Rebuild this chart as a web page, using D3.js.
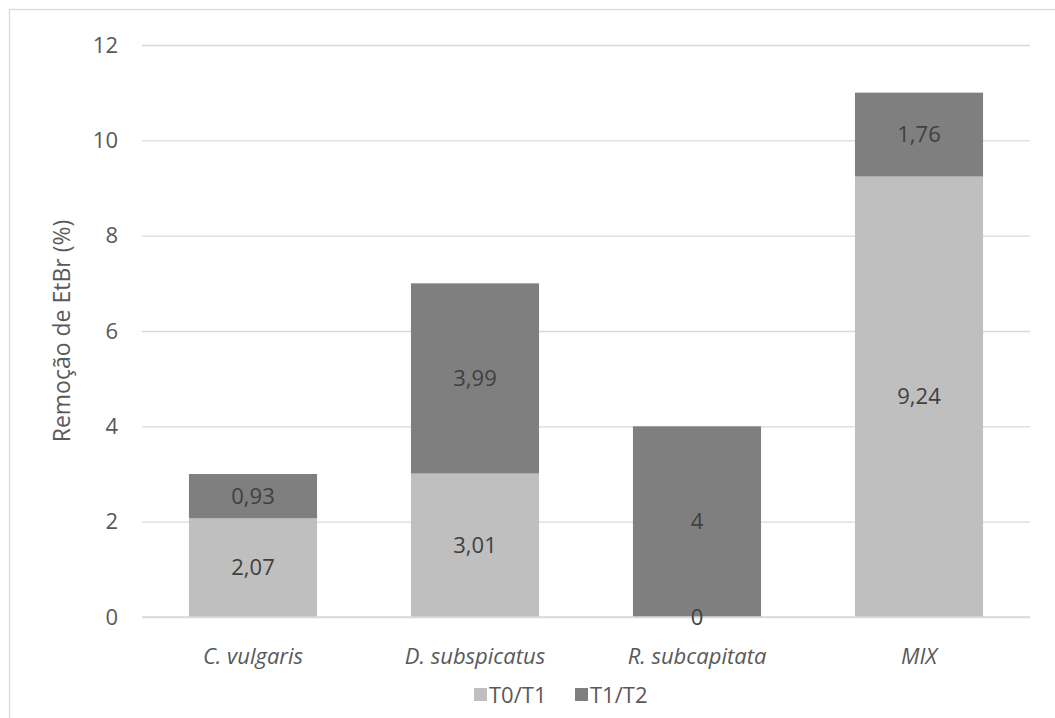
<!DOCTYPE html>
<html>
<head>
<meta charset="utf-8">
<script src="https://cdn.jsdelivr.net/npm/d3@7"></script>
<style>
  html, body { margin: 0; padding: 0; background: #fff; }
  svg { display: block; font-family: "Open Sans", sans-serif; }
</style>
</head>
<body>
<svg id="chart" width="1055" height="718"></svg>
<script>
const categories = ["C. vulgaris", "D. subspicatus", "R. subcapitata", "MIX"];
const seriesNames = ["T0/T1", "T1/T2"];
const t0t1 = [2.07, 3.01, 0, 9.24];
const t1t2 = [0.93, 3.99, 4, 1.76];
const labelsT0T1 = ["2,07", "3,01", "0", "9,24"];
const labelsT1T2 = ["0,93", "3,99", "4", "1,76"];
const yTicks = [0, 2, 4, 6, 8, 10, 12];
const colors = ["#bfbfbf", "#7f7f7f"];

const svg = d3.select("#chart");
const W = 1055, H = 718;
const margin = { left: 142, right: 25, top: 45, bottom: 101 };
const FS = "22px";

// outer border
svg.append("rect").attr("x", 9.5).attr("y", 9.5).attr("width", W + 10).attr("height", H + 10)
  .attr("fill", "none").attr("stroke", "#d9d9d9").attr("stroke-width", 1.3);

const x = d3.scaleBand().domain(categories).range([margin.left, W - margin.right]).paddingInner(0.423).paddingOuter(0.2115);
const y = d3.scaleLinear().domain([0, 12]).range([H - margin.bottom, margin.top]);

// gridlines
const yAxis = d3.axisLeft(y).tickValues(yTicks).tickSize(-(W - margin.right - margin.left)).tickFormat(d3.format("d"));
const gy = svg.append("g").attr("transform", `translate(${margin.left},0)`).call(yAxis);
gy.select(".domain").remove();
gy.selectAll(".tick line").attr("stroke", "#d9d9d9").attr("stroke-width", 1.3);
gy.selectAll(".tick text").attr("fill", "#595959").attr("font-size", FS).attr("font-family", "Open Sans").attr("x", -24);

const data = categories.map((c, i) => ({ cat: c, "T0/T1": t0t1[i], "T1/T2": t1t2[i], l0: labelsT0T1[i], l1: labelsT1T2[i] }));
const stack = d3.stack().keys(seriesNames)(data);

stack.forEach((s, si) => {
  svg.append("g").selectAll("rect").data(s).join("rect")
    .attr("x", d => x(d.data.cat))
    .attr("width", x.bandwidth())
    .attr("y", d => y(d[1]))
    .attr("height", d => y(d[0]) - y(d[1]))
    .attr("fill", colors[si]);
});

// x axis: baseline
svg.append("line").attr("x1", margin.left).attr("x2", W - margin.right)
  .attr("y1", y(0)).attr("y2", y(0)).attr("stroke", "#d9d9d9").attr("stroke-width", 1.3);

// data labels
stack.forEach((s, si) => {
  svg.append("g").selectAll("text").data(s).join("text")
    .attr("x", d => x(d.data.cat) + x.bandwidth() / 2)
    .attr("y", d => y((d[0] + d[1]) / 2))
    .attr("dy", "0.35em")
    .attr("text-anchor", "middle")
    .attr("font-size", FS)
    .attr("fill", "#404040")
    .text(d => si === 0 ? d.data.l0 : d.data.l1);
});

const xAxis = d3.axisBottom(x).tickSize(0).tickPadding(0);
const gx = svg.append("g").attr("transform", `translate(0,${y(0)})`).call(xAxis);
gx.select(".domain").remove();
gx.selectAll(".tick text").attr("fill", "#595959").attr("font-size", FS).attr("font-family", "Open Sans")
  .attr("font-style", "italic").attr("dy", 0).attr("y", 47);

// legend
const legend = svg.append("g");
const legX = [474, 575];
seriesNames.forEach((n, i) => {
  legend.append("rect").attr("x", legX[i]).attr("y", 688).attr("width", 13).attr("height", 13).attr("fill", colors[i]);
  legend.append("text").attr("x", legX[i] + 15).attr("y", 695).attr("dy", "0.35em")
    .attr("font-size", FS).attr("fill", "#595959").text(n);
});

// y axis title
svg.append("text")
  .attr("transform", `translate(62,${(y(0) + y(12)) / 2}) rotate(-90)`)
  .attr("text-anchor", "middle").attr("dy", "0.35em")
  .attr("font-size", "23px").attr("fill", "#595959")
  .text("Remoção de EtBr (%)");
</script>
</body>
</html>
